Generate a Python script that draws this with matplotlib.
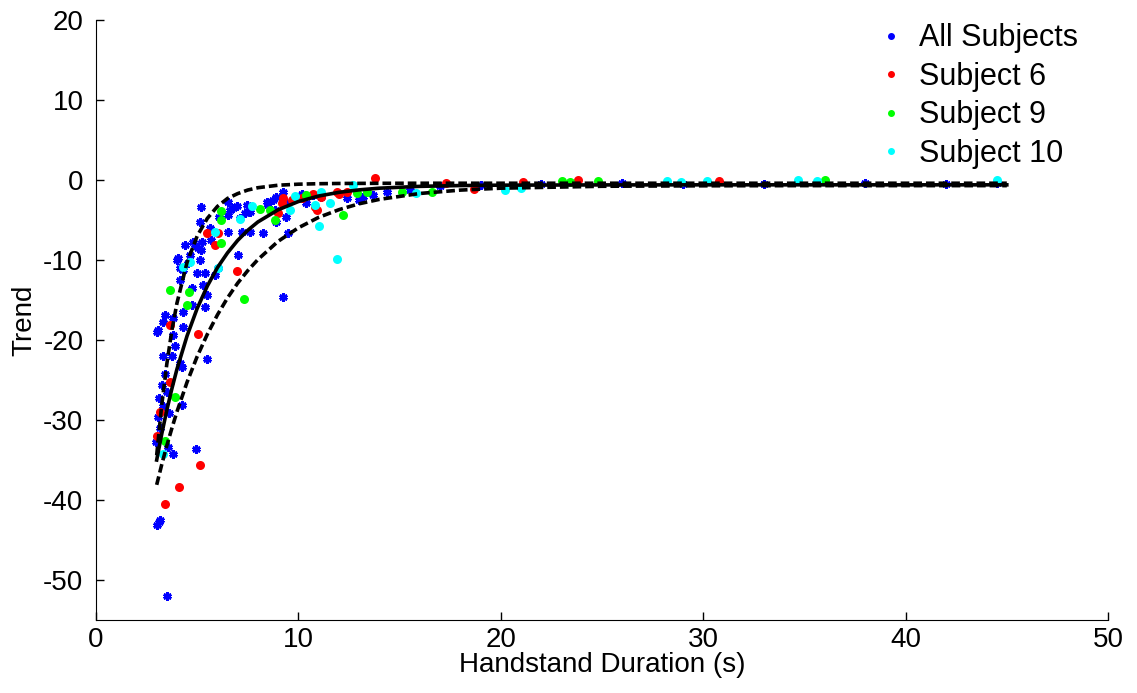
import matplotlib
matplotlib.use("Agg")
import matplotlib.pyplot as plt
from matplotlib.lines import Line2D

# ---------------- data ----------------
all_x = [5.19, 5.14, 5.63, 5.68, 5.24, 5.04, 5.2, 4.9, 4.4, 4.8, 4.64, 5.14, 4.05, 4.0, 4.15, 4.3,
         4.55, 4.98, 5.4, 5.88, 6.03, 4.15, 4.74, 5.29, 5.48, 4.74, 5.39, 4.3, 3.41, 3.31, 3.06, 3.8,
         4.3, 6.52, 6.6, 6.77, 6.95, 7.45, 7.6, 8.43, 8.5, 8.76, 8.85, 8.9, 9.25, 9.4, 9.4, 8.9,
         8.27, 7.0, 9.5, 10.2, 10.4, 10.7, 11.1, 12.4, 13.0, 13.2, 13.7, 6.5, 7.1, 7.36, 7.6, 7.2,
         6.1, 6.5, 9.24,
         3.0, 3.8, 3.9, 3.3, 3.75, 4.15, 4.25, 3.4, 3.26, 3.5, 3.1, 3.3, 3.6, 3.06, 4.25, 5.48,
         3.16, 2.96, 3.56, 3.8, 4.94, 3.16, 3.0, 3.1, 3.5,
         14.4, 15.5, 17.0, 19.0, 22.0, 26.0, 29.0, 33.0, 38.0, 42.0, 44.5]
all_y = [-3.4, -5.2, -6.0, -7.5, -7.7, -8.5, -8.75, -8.1, -8.1, -7.7, -9.4, -10.0, -9.8, -10.0, -11.0, -11.25,
         -10.4, -11.6, -11.6, -11.9, -11.0, -12.5, -13.5, -13.1, -14.4, -15.6, -15.9, -16.5, -16.9, -17.75, -18.75, -17.25,
         -18.4, -6.5, -3.75, -3.5, -3.3, -3.1, -4.0, -2.7, -3.1, -2.5, -3.75, -2.1, -1.5, -2.9, -4.6, -5.2,
         -6.6, -9.4, -6.6, -1.7, -2.9, -1.9, -2.1, -2.3, -2.5, -2.1, -1.9, -2.7, -4.8, -4.1, -6.5, -6.5,
         -4.6, -4.4, -14.6,
         -19.0, -19.4, -20.75, -22.0, -22.0, -22.9, -23.4, -24.3, -25.6, -26.5, -27.3, -28.25, -29.1, -29.6, -28.1, -22.4,
         -31.0, -32.75, -33.4, -34.3, -33.6, -42.5, -43.1, -42.8, -52.0,
         -1.5, -1.2, -0.8, -0.6, -0.5, -0.4, -0.5, -0.5, -0.4, -0.5, -0.4]

s6_x = [5.04, 3.66, 3.0, 5.14, 4.1, 3.41, 5.48, 5.88, 6.03, 6.95, 3.66, 9.0, 9.2, 9.25, 9.7, 10.2,
        10.7, 11.1, 10.9, 11.9, 12.4, 13.8, 10.8, 12.0, 18.7, 23.8, 21.1, 17.3, 30.8, 3.16]
s6_y = [-19.25, -25.3, -32.0, -35.6, -38.4, -40.5, -6.6, -8.1, -6.6, -11.4, -18.1, -4.1, -2.9, -2.3, -2.5, -2.3,
        -1.7, -2.1, -3.75, -1.5, -1.5, 0.25, -3.4, -1.7, -1.1, 0.0, -0.25, -0.4, -0.1, -29.0]

s9_x = [6.2, 6.2, 6.2, 8.1, 8.6, 8.85, 3.66, 4.6, 4.5, 7.3, 12.2, 10.4, 12.9, 13.4, 3.9, 3.41,
        15.1, 16.6, 23.0, 23.4, 24.8, 36.0]
s9_y = [-3.9, -5.0, -7.9, -3.6, -3.75, -5.0, -13.75, -14.0, -15.6, -14.9, -4.4, -1.9, -1.6, -1.5, -27.1, -32.6,
        -1.5, -1.5, -0.1, -0.25, -0.1, 0.0]

s10_x = [7.7, 7.1, 5.9, 4.3, 4.64, 6.03, 9.83, 9.6, 10.8, 11.56, 11.0, 11.9, 12.7, 11.1, 3.3, 15.8,
         20.2, 21.0, 28.2, 28.9, 30.2, 34.7, 35.6, 44.5]
s10_y = [-3.25, -4.9, -6.5, -10.9, -10.25, -11.0, -2.0, -3.75, -3.1, -2.9, -5.75, -9.9, -0.6, -1.5, -34.25, -1.6,
         -1.25, -1.0, -0.1, -0.25, -0.1, 0.0, -0.1, 0.0]

# fitted curve and bounds
fit_x = [3, 3.25, 3.5, 3.75, 4, 4.5, 5, 5.5, 6, 6.5, 7, 7.5, 8, 9, 10, 11, 12, 13, 14, 16, 18, 20,
         25, 30, 35, 40, 45]
fit_mid = [-35.0, -31.73, -28.77, -26.09, -23.65, -19.49, -16.05, -13.26, -10.95, -9.10, -7.55, -6.28,
           -5.24, -3.72, -2.69, -2.00, -1.54, -1.23, -1.02, -0.79, -0.69, -0.64, -0.61, -0.60, -0.60,
           -0.60, -0.60]
fit_upper = [-34.4, -28.1, -23.0, -18.8, -15.4, -10.3, -7.0, -4.8, -3.3, -2.3, -1.7, -1.25, -0.96,
             -0.65, -0.52, -0.46, -0.43, -0.42, -0.41, -0.40, -0.40, -0.40, -0.40, -0.40, -0.40,
             -0.40, -0.40]
fit_lower = [-38.1, -35.56, -33.20, -31.03, -28.97, -25.27, -22.06, -19.29, -16.86, -14.73, -12.89,
             -11.32, -9.94, -7.66, -5.97, -4.67, -3.71, -2.97, -2.42, -1.68, -1.26, -1.02, -0.78,
             -0.72, -0.70, -0.70, -0.70]

labels = ["All Subjects", "Subject 6", "Subject 9", "Subject 10"]
colors = ["#0000ff", "#ff0000", "#00ff00", "#00ffff"]
xticks = [0, 10, 20, 30, 40, 50]
yticks = [-50, -40, -30, -20, -10, 0, 10, 20]

# ---------------- plot ----------------
plt.rcParams['font.family'] = ['Liberation Sans', 'DejaVu Sans']
plt.rcParams['axes.unicode_minus'] = False
fig = plt.figure(figsize=(11.37, 6.93), dpi=100)
ax = fig.add_axes([0.0844, 0.1053, 0.8901, 0.8658])

ax.plot(all_x, all_y, linestyle='none', marker=(6, 2, 0), markersize=6, markeredgewidth=2.0,
        color=colors[0], zorder=2)
for xs, ys, c in [(s6_x, s6_y, colors[1]), (s9_x, s9_y, colors[2]), (s10_x, s10_y, colors[3])]:
    ax.plot(xs, ys, linestyle='none', marker='o', markersize=6.5, markeredgewidth=0,
            color=c, zorder=3)

ax.plot(fit_x, fit_mid, color='black', linewidth=2.6, zorder=4)
ax.plot(fit_x, fit_upper, color='black', linewidth=2.6, linestyle=(0, (2.4, 1.1)), zorder=4)
ax.plot(fit_x, fit_lower, color='black', linewidth=2.6, linestyle=(0, (2.4, 1.1)), zorder=4)

ax.set_xlim(0, 50)
ax.set_ylim(-55, 20)
ax.set_xticks(xticks)
ax.set_yticks(yticks)
ax.tick_params(direction='in', length=6, width=1, labelsize=20, top=False, right=False)
ax.tick_params(axis='y', pad=9)
ax.tick_params(axis='x', pad=5)
ax.spines['top'].set_visible(False)
ax.spines['right'].set_visible(False)
ax.set_xlabel("Handstand Duration (s)", fontsize=20, labelpad=-1)
ax.set_ylabel("Trend", fontsize=20, labelpad=4)

handles = [Line2D([], [], linestyle='none', marker='.', markersize=8, color=c) for c in colors]
ax.legend(handles, labels, loc='upper right', frameon=False, fontsize=22,
          handletextpad=0.4, labelspacing=0.28, handlelength=1.0,
          bbox_to_anchor=(0.982, 1.015), borderaxespad=0.0)

fig.savefig("out.png", dpi=100)
